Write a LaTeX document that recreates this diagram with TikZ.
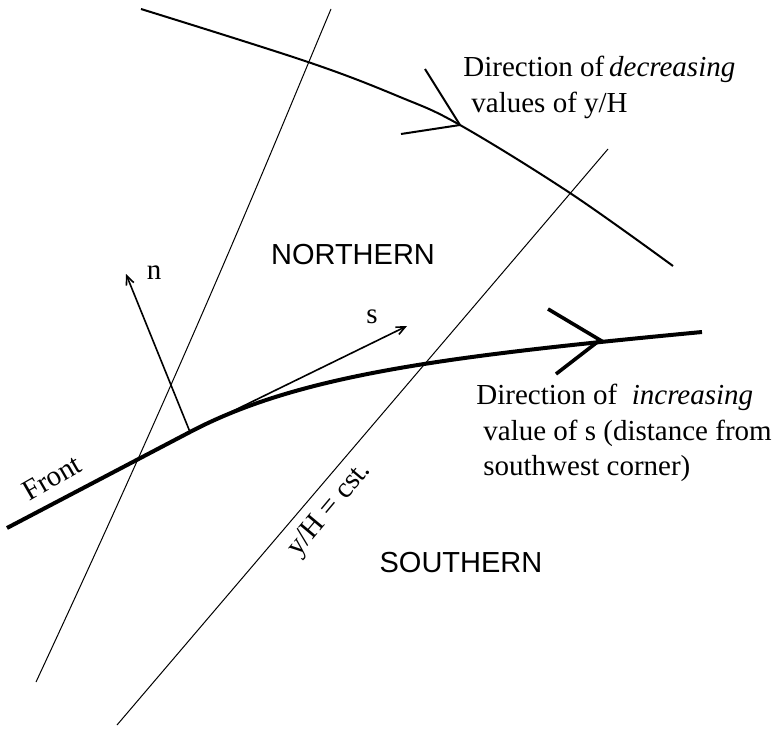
\documentclass[tikz,border=0pt]{standalone}
\usepackage{fontspec}
\setmainfont{Liberation Serif}
\setsansfont{Liberation Sans}
\usepackage{tikz}
\usetikzlibrary{arrows.meta, positioning}

\begin{document}
\begin{tikzpicture}[x=0.5pt, y=-0.5pt,
    thinline/.style={line width=0.5pt},
    isoline/.style={line width=1pt},
    frontline/.style={line width=2pt},
    vecline/.style={line width=0.8pt, -{Straight Barb[length=4.5pt, width=4pt]}},
    lbl/.style={font=\fontsize{14.5}{18}\selectfont, inner sep=0pt},
    region/.style={font=\fontsize{14.5}{18}\sffamily\selectfont, inner sep=0pt}]
    \useasboundingbox (0,0) rectangle (776,728);

    % Contour of y/H (top curve) and its direction mark
    \draw[isoline] plot[smooth, tension=0.6] coordinates {(141,9) (308,62) (400,97) (460,125) (570,193) (673,266)};
    \coordinate (yapex) at (460,125);
    \draw[isoline] (425,69) -- (yapex) -- (401,134);

    % Lines of constant y/H
    \draw[thinline] (331,9) .. controls (280,130) and (200,330) .. (36,682);
    \draw[thinline] (608,149) -- (117,725);

    % Front
    \coordinate (base) at (190,432);
    \draw[frontline] (7,528) -- (base) .. controls (300,374) and (450,356) .. (702,332);
    \coordinate (sapex) at (600,340);
    \draw[frontline, line width=1.8pt] (548,309) -- (sapex) -- (556,374);

    % Local normal and tangent
    \coordinate (ntip) at (126,274);
    \coordinate (stip) at (407,326);
    \draw[vecline] (base) -- (ntip);
    \draw[vecline] (base) -- (stip);
    \node[lbl] (nlabel) at (154,273) {n};
    \node[lbl] (slabel) at (372,317) {s};

    % Labels
    \node[lbl, rotate=30] (frontlabel) at (52,478) {Front};
    \node[lbl, rotate=50] (cstlabel) at (330,510) {y/H = cst.};
    \node[region] (north) at (353,255) {NORTHERN};
    \node[region] (south) at (461,563) {SOUTHERN};

    \node[lbl, anchor=base west] (dec1) at (463,76) {Direction of\,\textit{decreasing}};
    \node[lbl, anchor=base west] (dec2) at (471,112) {values of y/H};
    \node[lbl, anchor=base west] (inc1) at (476,404) {Direction of \ \textit{increasing}};
    \node[lbl, anchor=base west] (inc2) at (483,440) {value of s (distance from};
    \node[lbl, anchor=base west] (inc3) at (483,475) {southwest corner)};
\end{tikzpicture}
\end{document}
